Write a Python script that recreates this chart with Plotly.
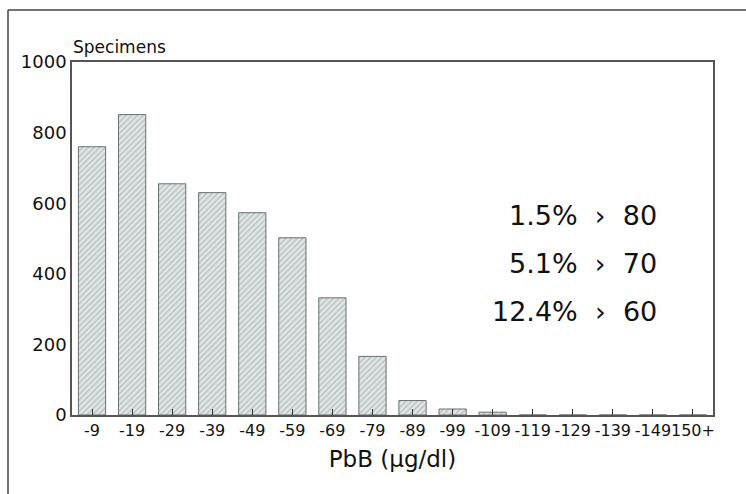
import plotly.graph_objects as go

categories = ["-9", "-19", "-29", "-39", "-49", "-59", "-69", "-79", "-89", "-99",
              "-109", "-119", "-129", "-139", "-149", "150+"]
specimens = [760, 851, 655, 630, 573, 502, 332, 166, 41, 17, 8, 0, 0, 0, 0, 0]
notes = ["1.5%\u00a0\u00a0›\u00a0\u00a080", "5.1%\u00a0\u00a0›\u00a0\u00a070",
         "12.4%\u00a0\u00a0›\u00a0\u00a060"]

FONT = "DejaVu Sans, Verdana, sans-serif"
L, R, T, B = 72, 33, 62, 79
W, H = 746, 494
pw, ph = W - L - R, H - T - B

fig = go.Figure()
fig.add_trace(go.Bar(
    x=categories, y=specimens, width=0.68,
    marker=dict(color="#dfe3e3",
                line=dict(color="#6a7070", width=1),
                pattern=dict(shape="/", fgcolor="#8c9494", bgcolor="#e2e6e6",
                             size=4, solidity=0.35)),
    hoverinfo="x+y",
))

for i, t in enumerate(notes):
    fig.add_annotation(xref="paper", yref="paper", x=(659 - L) / pw,
                       y=(H - B - (215 + 48 * i)) / ph, text=t, showarrow=False,
                       xanchor="right", yanchor="middle",
                       font=dict(family=FONT, size=27, color="#111"))

fig.add_annotation(xref="paper", yref="paper", x=-0.002, y=(H - B - 47) / ph,
                   text="Specimens", showarrow=False, xanchor="left",
                   yanchor="middle", font=dict(family=FONT, size=17, color="#111"))

# outer frame (top and left edges visible)
x0 = (8 - L) / pw
y_top = (H - B - 10) / ph
y_bot = (H - B - 500) / ph
fig.add_shape(type="line", xref="paper", yref="paper", x0=x0, x1=1.2,
              y0=y_top, y1=y_top, line=dict(color="#444", width=1.5))
fig.add_shape(type="line", xref="paper", yref="paper", x0=x0, x1=x0,
              y0=y_top, y1=y_bot, line=dict(color="#444", width=1.5))

fig.update_layout(
    width=W, height=H,
    margin=dict(l=L, r=R, t=T, b=B),
    paper_bgcolor="white", plot_bgcolor="white",
    showlegend=False, bargap=0.32,
    font=dict(family=FONT, color="#111"),
    xaxis=dict(type="category", range=[-0.5, 15.5], tickangle=0,
               showline=True, mirror=True, linecolor="#555", linewidth=1.5,
               ticks="inside", ticklen=6, tickcolor="#333", tickwidth=1,
               tickfont=dict(size=16, family=FONT, color="#111"),
               title=dict(text="PbB (μg/dl)", font=dict(size=23, family=FONT, color="#111"),
                          standoff=12),
               showgrid=False, zeroline=False),
    yaxis=dict(range=[0, 1000], tickvals=[0, 200, 400, 600, 800, 1000],
               showline=True, mirror=True, linecolor="#555", linewidth=1.5,
               ticks="", tickfont=dict(size=18, family=FONT, color="#111"),
               showgrid=False, zeroline=False),
)

fig.write_html("out.html", config={"displayModeBar": False},
               post_script="document.body.style.margin='0';")
